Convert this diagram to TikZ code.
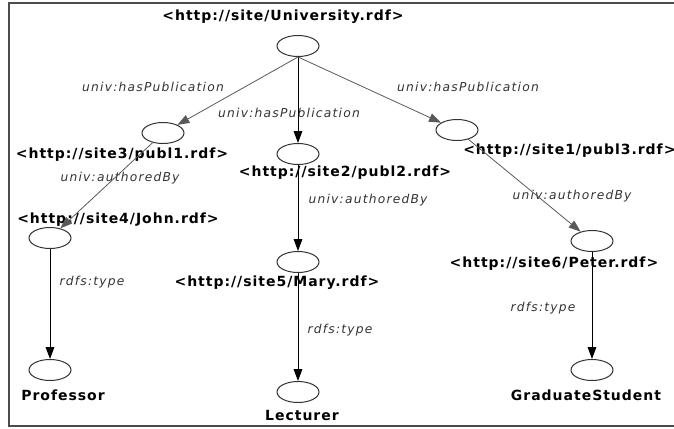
\documentclass[tikz,border=0pt]{standalone}
\usepackage{fontspec}
\setmainfont{DejaVu Sans}
\newfontfamily\urifont[LetterSpace=7]{DejaVu Sans}
\newfontfamily\propfont[LetterSpace=10]{DejaVu Sans}
\usetikzlibrary{arrows.meta,shapes.geometric}

\tikzset{
  res/.style={ellipse, draw=black!80, line width=0.75pt, minimum width=31.5pt, minimum height=15.75pt, inner sep=0pt},
  uri/.style={font=\urifont\bfseries\fontsize{10.5}{12}\selectfont, inner sep=0pt},
  prop/.style={font=\propfont\itshape\fontsize{9.2}{10}\selectfont, text=black!80, inner sep=0pt},
  rel/.style={-{Triangle[length=9pt,width=6.5pt]}, line width=0.75pt},
  relgray/.style={rel, draw=black!65, line width=0.6pt},
  frame/.style={draw=black!70, line width=1pt}
}

\begin{document}
\begin{tikzpicture}[x=0.75pt, y=-0.75pt]
   \useasboundingbox (0,0) rectangle (674,428);
   \draw[frame] (680,3) -- (9,3) -- (9,426) -- (680,426);

   \node[res] (univ) at (298,46) {};
   \node[res] (publA) at (163,133) {};
   \node[res] (publB) at (298,154) {};
   \node[res] (publC) at (457,130) {};
   \node[res] (john) at (50,238) {};
   \node[res] (mary) at (298,262) {};
   \node[res] (peter) at (592,241) {};
   \node[res] (prof) at (50,370) {};
   \node[res] (lect) at (298,392) {};
   \node[res] (grad) at (592,370) {};

   \node[uri] (univL) at (283,17) {<http://site/University.rdf>};
   \node[uri] (publAL) at (122,155) {<http://site3/publ1.rdf>};
   \node[uri] (publBL) at (345,173) {<http://site2/publ2.rdf>};
   \node[uri, anchor=west] (publCL) at (463,151) {<http://site1/publ3.rdf>};
   \node[uri] (johnL) at (118,220) {<http://site4/John.rdf>};
   \node[uri] (maryL) at (277,283) {<http://site5/Mary.rdf>};
   \node[uri] (peterL) at (554,264) {<http://site6/Peter.rdf>};
   \node[uri] (profL) at (63,395) {Professor};
   \node[uri] (lectL) at (302,415) {Lecturer};
   \node[uri] (gradL) at (586,395) {GraduateStudent};

   \node[prop] (pubAL) at (153,87) {univ:hasPublication};
   \node[prop] (pubBL) at (289,113) {univ:hasPublication};
   \node[prop] (pubCL) at (468,87) {univ:hasPublication};
   \node[prop] (authAL) at (120,178) {univ:authoredBy};
   \node[prop] (authBL) at (368,200) {univ:authoredBy};
   \node[prop] (authCL) at (572,196) {univ:authoredBy};
   \node[prop] (typeAL) at (92,282) {rdfs:type};
   \node[prop] (typeBL) at (340,330) {rdfs:type};
   \node[prop] (typeCL) at (543,308) {rdfs:type};

   \draw[relgray] (univ.south) -- (publA);
   \draw[rel] (univ.south) -- (publB);
   \draw[relgray] (univ.south) -- (publC);
   \draw[relgray] (publA) -- (john);
   \draw[rel] (publB) -- (mary);
   \draw[relgray] (publC) -- (peter);
   \draw[rel] (john) -- (prof);
   \draw[rel] (mary) -- (lect);
   \draw[rel] (peter) -- (grad);
\end{tikzpicture}
\end{document}
